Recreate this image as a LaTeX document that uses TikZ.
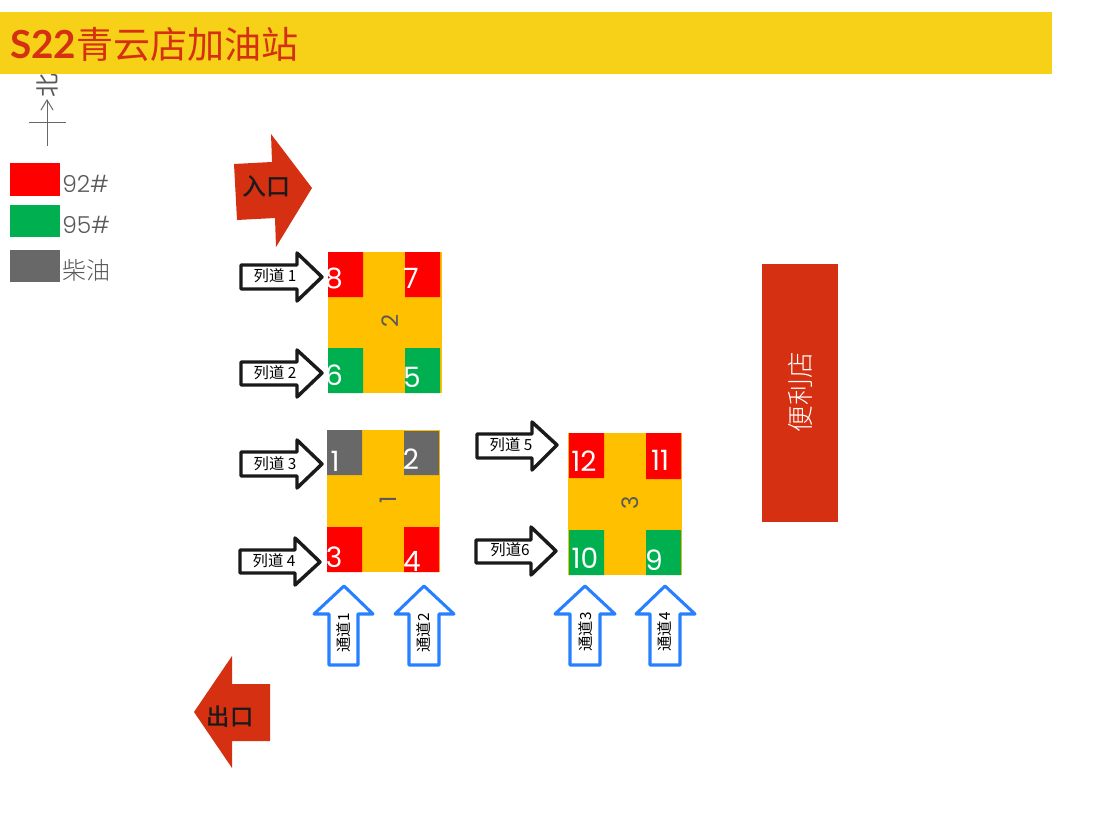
\documentclass[tikz,border=0pt]{standalone}
\usepackage{fontspec}
\setmainfont{Poppins}[UprightFont={* Light},BoldFont={*}]
\newfontfamily\cjk{Noto Sans CJK SC}[UprightFont={* Light},BoldFont={* Medium}]
\newfontfamily\cjkr{Noto Sans CJK SC}
\newfontfamily\latb{Lato}[BoldFont={* Bold}]
\definecolor{bandc}{HTML}{F6D118}
\definecolor{brick}{HTML}{D43011}
\definecolor{orangec}{HTML}{FFC000}
\definecolor{greenc}{HTML}{00B050}
\definecolor{grayc}{HTML}{686868}
\definecolor{txtc}{HTML}{595959}
\definecolor{bluec}{HTML}{2680FF}
\definecolor{darkc}{HTML}{1A1A1A}
\tikzset{
 blackarrow/.style={draw=darkc,fill=white,line width=2.6pt,line join=round},
 bluearrow/.style={draw=bluec,fill=white,line width=2.3pt,line join=round},
 num/.style={text=white,font=\bfseries\fontsize{21}{21}\selectfont,inner sep=0pt},
 stn/.style={text=txtc,font=\bfseries\fontsize{17}{17}\selectfont,inner sep=0pt,rotate=90},
 lbl/.style={text=black,font=\cjkr\fontsize{11.5}{12}\selectfont,inner sep=0pt},
 legt/.style={text=txtc,font=\fontsize{17.5}{18}\selectfont,inner sep=0pt,anchor=west},
}
\begin{document}
\begin{tikzpicture}[x=0.75pt,y=-0.75pt]
\useasboundingbox (0,0) rectangle (1106,820);
% compass
\node[text=txtc,font=\cjkr\fontsize{18}{18}\selectfont,rotate=90,inner sep=0pt] (north) at (47,86) {北};
\fill[bandc] (0,12) rectangle (1052,74);
\node[anchor=west,inner sep=0pt,text=brick] (title) at (10,44) {{\latb\bfseries\fontsize{29}{29}\selectfont S22}{\cjkr\fontsize{27.8}{28}\selectfont 青云店加油站}};
\coordinate (nb) at (47,146); \coordinate (nt) at (47,100);
\coordinate (wl) at (29,123); \coordinate (wr) at (66,123);
\draw[grayc,line width=0.75pt] (wl) -- (wr) (nb) -- (nt);
\draw[grayc,line width=0.75pt,line cap=round] (41,110) -- (nt) -- (53,110);
% legend
\fill[red] (10,163) rectangle (60,196);
\fill[greenc] (10,205) rectangle (60,237);
\fill[grayc] (10,250) rectangle (60,282);
\node[legt] (l92) at (62,184) {92\#};
\node[legt] (l95) at (62,225) {95\#};
\node[anchor=west,inner sep=0pt,text=txtc,font=\cjk\fontsize{18}{18}\selectfont] (ldz) at (62,270) {柴油};
% entry / exit
\fill[brick] (234,164) -- (272,162) -- (271,134) -- (312,188) -- (276,247) -- (275,218) -- (237,220) -- cycle;
\node[text=darkc,font=\cjk\bfseries\fontsize{18}{18}\selectfont,inner sep=0pt] (in) at (266,186) {入口};
\fill[brick] (194,712) -- (232,656) -- (232,684) -- (270,684) -- (270,741) -- (232,741) -- (232,768) -- cycle;
\node[text=darkc,font=\cjk\bfseries\fontsize{17.5}{18}\selectfont,inner sep=0pt] (out) at (230,717) {出口};
% station 2
\fill[orangec] (328,252) rectangle (442,393);
\fill[red] (328,252) rectangle (363,297) (405,252) rectangle (440,297);
\fill[greenc] (328,348) rectangle (363,393) (405,348) rectangle (440,393);
\node[num] (n8) at (334,279) {8};
\node[num] (n7) at (411,278) {7};
\node[num] (n6) at (334,375) {6};
\node[num] (n5) at (412,377) {5};
\node[stn] (s2) at (390,321) {2};
% station 1
\fill[orangec] (327,430) rectangle (440,572);
\fill[grayc] (327,430) rectangle (362,475) (404,431) rectangle (439,475);
\fill[red] (327,527) rectangle (362,572) (404,527) rectangle (439,572);
\node[num] (n1) at (335,461) {1};
\node[num] (n2) at (411,459) {2};
\node[num] (n3) at (334,557) {3};
\node[num] (n4) at (412,561) {4};
\node[stn] (s1) at (388,500) {1};
% station 3
\fill[orangec] (568,433) rectangle (682,575);
\fill[red] (569,433) rectangle (604,478) (646,433) rectangle (681,479);
\fill[greenc] (569,530) rectangle (604,575) (646,530) rectangle (681,575);
\node[num] (n12) at (584,461) {12};
\node[num] (n11) at (660,460) {11};
\node[num] (n10) at (585,558) {10};
\node[num] (n9) at (654,560) {9};
\node[stn] (s3) at (630,503) {3};
% store
\fill[brick] (762,264) rectangle (838,522);
\node[text=white,font=\cjk\fontsize{20}{20}\selectfont,rotate=90,inner sep=0pt] (store) at (800,392) {便利店};
% lane arrows
\draw[blackarrow] (241,265) -- (297,265) -- (297,253) -- (322,277) -- (297,301) -- (297,289) -- (241,289) -- cycle;
\node[lbl] (a1) at (275,276) {列道 1};
\draw[blackarrow] (241,362) -- (297,362) -- (297,350) -- (322,373) -- (297,397) -- (297,385) -- (241,385) -- cycle;
\node[lbl] (a2) at (275,373) {列道 2};
\draw[blackarrow] (241,452) -- (297,452) -- (297,440) -- (322,464) -- (297,488) -- (297,476) -- (241,476) -- cycle;
\node[lbl] (a3) at (275,464) {列道 3};
\draw[blackarrow] (240,550) -- (295,550) -- (295,538) -- (320,562) -- (295,585) -- (295,573) -- (240,573) -- cycle;
\node[lbl] (a4) at (274,561) {列道 4};
\draw[blackarrow] (477,434) -- (532,434) -- (532,422) -- (557,445) -- (532,470) -- (532,458) -- (477,458) -- cycle;
\node[lbl] (a5) at (511,445) {列道 5};
\draw[blackarrow] (476,540) -- (531,540) -- (531,527) -- (556,551) -- (531,575) -- (531,563) -- (476,563) -- cycle;
\node[lbl] (a6) at (510,550) {列道6};
% channel arrows
\draw[bluearrow] (344,586) -- (373,614) -- (358,614) -- (358,665) -- (329,665) -- (329,614) -- (314,614) -- cycle;
\node[lbl,rotate=90] (c1) at (344,633) {通道1};
\draw[bluearrow] (424,586) -- (454,614) -- (439,614) -- (439,665) -- (409,665) -- (409,614) -- (395,614) -- cycle;
\node[lbl,rotate=90] (c2) at (424,633) {通道2};
\draw[bluearrow] (585,586) -- (615,614) -- (600,614) -- (600,665) -- (570,665) -- (570,614) -- (555,614) -- cycle;
\node[lbl,rotate=90] (c3) at (586,632) {通道3};
\draw[bluearrow] (665,586) -- (695,614) -- (680,614) -- (680,665) -- (650,665) -- (650,614) -- (636,614) -- cycle;
\node[lbl,rotate=90] (c4) at (665,632) {通道4};
\end{tikzpicture}
\end{document}
